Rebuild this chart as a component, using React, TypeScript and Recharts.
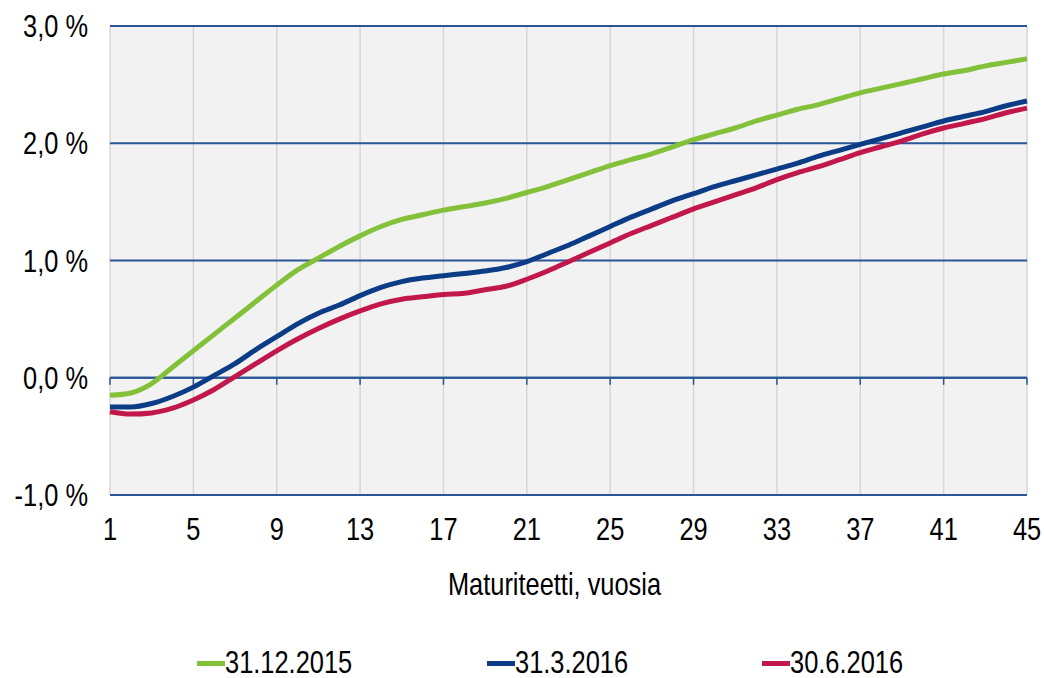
import React from 'react'
import {
  LineChart,
  Line,
  XAxis,
  YAxis,
  CartesianGrid,
  Legend,
  Label,
  ReferenceLine,
} from 'recharts'

const YEARS = Array.from({ length: 45 }, (_, i) => i + 1)

const DEC_2015 = [
  -0.15, -0.13, -0.05, 0.09, 0.23, 0.37, 0.51, 0.65, 0.79, 0.92,
  1.02, 1.12, 1.21, 1.29, 1.35, 1.39, 1.43, 1.46, 1.49, 1.53,
  1.58, 1.63, 1.69, 1.75, 1.81, 1.86, 1.91, 1.97, 2.03, 2.08,
  2.13, 2.19, 2.24, 2.29, 2.33, 2.38, 2.43, 2.47, 2.51, 2.55,
  2.59, 2.62, 2.66, 2.69, 2.72,
]

const MAR_2016 = [
  -0.25, -0.25, -0.22, -0.16, -0.08, 0.02, 0.12, 0.24, 0.35, 0.46,
  0.55, 0.62, 0.7, 0.77, 0.82, 0.85, 0.87, 0.89, 0.91, 0.94,
  0.99, 1.06, 1.13, 1.21, 1.29, 1.37, 1.44, 1.51, 1.57, 1.63,
  1.68, 1.73, 1.78, 1.83, 1.89, 1.94, 1.99, 2.04, 2.09, 2.14,
  2.19, 2.23, 2.27, 2.32, 2.36,
]

const JUN_2016 = [
  -0.29, -0.31, -0.3, -0.26, -0.19, -0.1, 0.01, 0.12, 0.23, 0.33,
  0.42, 0.5, 0.57, 0.63, 0.67, 0.69, 0.71, 0.72, 0.75, 0.78,
  0.84, 0.91, 0.99, 1.07, 1.15, 1.23, 1.3, 1.37, 1.44, 1.5,
  1.56, 1.62, 1.69, 1.75, 1.8, 1.86, 1.92, 1.97, 2.02, 2.08,
  2.13, 2.17, 2.21, 2.26, 2.3,
]

const X_TICKS = [1, 5, 9, 13, 17, 21, 25, 29, 33, 37, 41, 45]
const Y_TICKS = [-1, 0, 1, 2, 3]

const SERIES = [
  { key: 'dec2015', name: '31.12.2015', color: '#84C13A', values: DEC_2015 },
  { key: 'mar2016', name: '31.3.2016', color: '#0B3C85', values: MAR_2016 },
  { key: 'jun2016', name: '30.6.2016', color: '#C1174B', values: JUN_2016 },
]

// legend item left edges (px)
const LEGEND_LEFT = [197, 487, 762]

const FONT = "'Liberation Sans', Arial, sans-serif"
const FONT_SIZE = 31
const SQUEEZE = 0.82 // narrow look of the original font
const GRID_BLUE = '#2B5597'

const data = YEARS.map((year, i) => {
  const row: Record<string, number> = { year }
  SERIES.forEach(s => {
    row[s.key] = s.values[i]
  })
  return row
})

const formatPct = (v: number) => `${v.toFixed(1).replace('.', ',')} %`

function NarrowText({ x, y, anchor, dy, children }: any) {
  return (
    <g transform={`translate(${x},${y})`}>
      <text
        transform={`scale(${SQUEEZE},1)`}
        textAnchor={anchor}
        dy={dy}
        fontFamily={FONT}
        fontSize={FONT_SIZE}
        fill="#000"
      >
        {children}
      </text>
    </g>
  )
}

function XTick({ x, y, payload }: any) {
  return (
    <NarrowText x={x} y={y} anchor="middle" dy="0.71em">
      {payload.value}
    </NarrowText>
  )
}

function YTick({ x, y, payload }: any) {
  return (
    <NarrowText x={x} y={y} anchor="end" dy="0.355em">
      {formatPct(payload.value)}
    </NarrowText>
  )
}

function AxisTitle({ viewBox }: any) {
  const { x, y, width } = viewBox
  return (
    <NarrowText x={x + width / 2 - 14} y={y + 78} anchor="middle" dy="0.71em">
      Maturiteetti, vuosia
    </NarrowText>
  )
}

function LegendContent() {
  return (
    <div style={{ position: 'relative', height: 30, width: 1044 }}>
      {SERIES.map((s, i) => (
        <div
          key={s.key}
          style={{
            position: 'absolute',
            left: LEGEND_LEFT[i],
            top: 0,
            height: 30,
            display: 'flex',
            alignItems: 'center',
            whiteSpace: 'nowrap',
          }}
        >
          <span style={{ display: 'inline-block', width: 28, height: 5, background: s.color }} />
          <span
            style={{
              display: 'inline-block',
              lineHeight: '30px',
              fontFamily: FONT,
              fontSize: FONT_SIZE,
              color: '#000',
              transform: `scaleX(${SQUEEZE})`,
              transformOrigin: 'left center',
            }}
          >
            {s.name}
          </span>
        </div>
      ))}
    </div>
  )
}

export default function App() {
  return (
    <div style={{ position: 'absolute', left: 0, top: 0, background: '#fff' }}>
      <LineChart
        width={1044}
        height={678}
        data={data}
        margin={{ top: 26, right: 17, left: 0, bottom: 0 }}
      >
        <CartesianGrid
          horizontal={false}
          stroke="#D6D6D6"
          strokeWidth={1.5}
          fill="#F2F2F2"
        />
        <CartesianGrid vertical={false} stroke={GRID_BLUE} strokeWidth={2} />
        <XAxis
          dataKey="year"
          type="number"
          domain={[1, 45]}
          ticks={X_TICKS}
          interval={0}
          axisLine={false}
          tickLine={false}
          tickSize={0}
          tickMargin={23}
          height={153}
          tick={<XTick />}
        >
          <Label content={<AxisTitle />} />
        </XAxis>
        <YAxis
          domain={[-1, 3]}
          ticks={Y_TICKS}
          interval={0}
          width={110}
          axisLine={false}
          tickLine={false}
          tickSize={0}
          tickMargin={22}
          tick={<YTick />}
        />
        <ReferenceLine y={0} stroke={GRID_BLUE} strokeWidth={2} />
        {X_TICKS.map(t => (
          <ReferenceLine
            key={t}
            segment={[{ x: t, y: 0 }, { x: t, y: -0.06 }]}
            stroke={GRID_BLUE}
            strokeWidth={1.5}
          />
        ))}
        {SERIES.map(s => (
          <Line
            key={s.key}
            type="monotone"
            dataKey={s.key}
            name={s.name}
            stroke={s.color}
            strokeWidth={5}
            dot={false}
            activeDot={false}
            isAnimationActive={false}
          />
        ))}
        <Legend
          verticalAlign="bottom"
          height={30}
          wrapperStyle={{ left: 0, width: 1044 }}
          content={<LegendContent />}
        />
      </LineChart>
    </div>
  )
}
